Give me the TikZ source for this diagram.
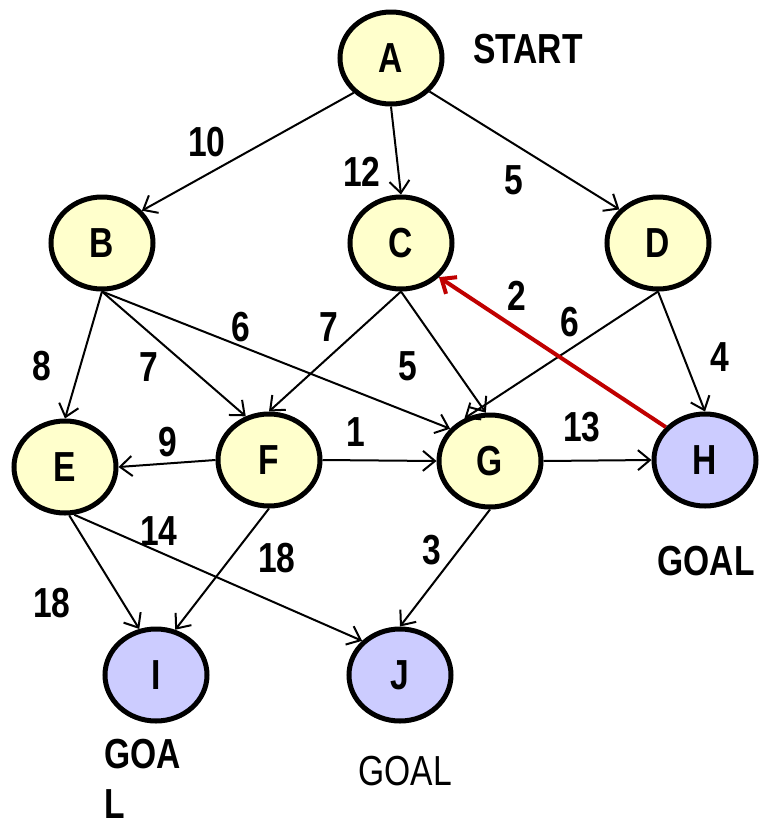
\documentclass[tikz,border=0pt]{standalone}
\usepackage{fontspec}
\setmainfont[FakeStretch=0.8]{Liberation Sans}
\usetikzlibrary{shapes, arrows.meta}

\definecolor{statefill}{HTML}{FFFFCC}
\definecolor{goalfill}{HTML}{CCCCFF}
\definecolor{backred}{HTML}{C00000}

\tikzset{
    state/.style={ellipse, draw, line width=2.5pt, fill=statefill,
        minimum width=51pt, minimum height=46pt, inner sep=0pt,
        font=\fontsize{21}{25}\selectfont\bfseries},
    goalstate/.style={state, fill=goalfill},
    cost/.style={inner sep=0pt, font=\fontsize{21}{25}\selectfont\bfseries},
    edge/.style={line width=1pt, -{Straight Barb[length=6pt,width=10pt]}},
}

\begin{document}
\begin{tikzpicture}[x=0.5pt, y=-0.5pt]
    \useasboundingbox (0,0) rectangle (759,826);

    % States
    \node[state] (A) at (391,58) {A};
    \node[state] (B) at (102,243) {B};
    \node[state] (C) at (401,243) {C};
    \node[state] (D) at (658,243) {D};
    \node[state] (E) at (65,467) {E};
    \node[state] (F) at (269,460) {F};
    \node[state] (G) at (490,461) {G};
    \node[goalstate] (H) at (705,460) {H};
    \node[goalstate] (I) at (156,675) {I};
    \node[goalstate] (J) at (400,675) {J};

    % Edges
    \foreach \from/\to in {A.223/B.39, A.south/C.north, A.319/D.139,
        B.south/E.north, B.south/F.118, B.south/G.141,
        C.south/F.north, C.south/G.95, D.south/G.121, D.south/H.north,
        F.west/E.east, F.east/G.west, G.east/H.west,
        E.275/I.110, E.281/J.138, F.south/I.67, G.south/J.north}
        \draw[edge] (\from) -- (\to);

    % Back edge H to C
    \draw[edge, line width=2pt, backred] (H.140) -- (C.318);

    % Costs
    \foreach \w/\x/\y/\nm in {10/207/142/AB, 12/362/172/AC, 5/514/180/AD,
        2/517/296/HC, 6/570/322/DG, 4/720/357/DH, 6/241/327/BG,
        7/329/327/CF, 8/42/366/BE, 7/149/367/BF, 5/408/366/CG,
        9/168/442/FE, 1/356/432/FG, 13/582/427/GH, 14/159/531/EJ,
        18/277/558/FI, 3/432/550/GJ, 18/52/603/EI}
        \node[cost] (w\nm) at (\x,\y) {\w};

    % Start and goal labels
    \node[cost] (start) at (528,49) {START};
    \node[cost] (goalH) at (706,561) {GOAL};
    \node[cost, align=left, anchor=base west] (goalI) at (104,818) {GOA\\L};
    \node[cost, font=\fontsize{21}{25}\selectfont] (goalJ) at (405,771) {GOAL};
\end{tikzpicture}
\end{document}
